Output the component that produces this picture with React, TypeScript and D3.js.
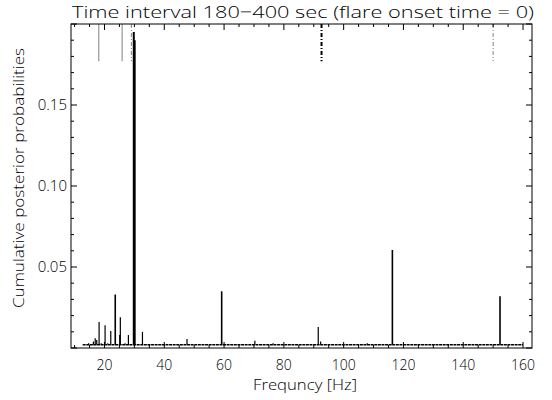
import React from "react";
import * as d3 from "d3";

// chart values
const freqDomain = [8.8, 163];
const probDomain = [0, 0.2];

const xTickLabels = [20, 40, 60, 80, 100, 120, 140, 160];
const yTickLabels = [0.05, 0.1, 0.15];

// low noise floor of the posterior
const floorFreqs = [12.7, 160];
const floorProbs = [0.002, 0.002];

// individual peaks (Hz, cumulative probability)
const spikeFreqs = [
  14.7, 16.3, 16.9, 17.4, 18.2, 18.9, 20.2, 21.1, 22.1, 23.6, 25.1, 25.3, 26.9, 28.0, 28.6,
  29.8, 30.1, 32.7, 33.6, 47.6, 59.2, 70.3, 76.4, 91.5, 92.3, 107.9, 116.3, 124.2, 152.3,
];
const spikeProbs = [
  0.003, 0.004, 0.006, 0.005, 0.016, 0.003, 0.014, 0.003, 0.0105, 0.033, 0.008, 0.019, 0.003, 0.008, 0.0025,
  0.195, 0.19, 0.01, 0.0025, 0.0055, 0.035, 0.0045, 0.003, 0.013, 0.004, 0.003, 0.0605, 0.0025, 0.032,
];

// reference frequencies marked from the top of the frame
const markerFreqs = [18.1, 25.9, 29.0, 92.6, 150.0];
const markerLow = 0.177;
const markerDash = ["", "", "4,2,1,2", "4,2,1,2", "4,2,1,2"];
const markerColor = ["#808080", "#808080", "#808080", "#000", "#808080"];
const markerWidth = [1, 1, 1, 2, 1];

const title = "Time interval 180\u2212400 sec (flare onset time = 0)";

export default function App() {
  const W = 552,
    H = 400;
  const left = 71,
    right = 532,
    top = 24,
    bottom = 348;

  const x = d3.scaleLinear().domain(freqDomain).range([left, right]);
  const y = d3.scaleLinear().domain(probDomain).range([bottom, top]);

  const xMinor = d3.range(10, 161, 5);
  const yMinor = d3.range(0, 0.2001, 0.01);

  const floorLine = d3
    .line<number>()
    .x((d, i) => x(floorFreqs[i]))
    .y((d) => y(d));

  const font = "'Open Sans', 'DejaVu Sans', sans-serif";
  const fw = 300;

  return (
    <svg
      width={W}
      height={H}
      style={{ position: "absolute", left: 0, top: 0, background: "#fff" }}
    >
      <rect x={0} y={0} width={W} height={H} fill="#fff" />

      {/* marker lines */}
      {markerFreqs.map((f, i) => (
        <line
          key={"m" + i}
          x1={x(f)}
          x2={x(f)}
          y1={y(probDomain[1])}
          y2={y(markerLow)}
          stroke={markerColor[i]}
          strokeWidth={markerWidth[i]}
          strokeDasharray={markerDash[i] || undefined}
        />
      ))}

      {/* floor */}
      <path d={floorLine(floorProbs) || ""} fill="none" stroke="#000" strokeWidth={1.4} strokeDasharray="3,0.6" />

      {/* spikes */}
      {spikeFreqs.map((f, i) => (
        <line
          key={"s" + i}
          x1={x(f)}
          x2={x(f)}
          y1={y(floorProbs[0])}
          y2={y(spikeProbs[i])}
          stroke="#000"
          strokeWidth={spikeProbs[i] > 0.1 ? 2 : spikeProbs[i] > 0.02 ? 1.6 : 1.2}
        />
      ))}

      {/* frame */}
      <rect
        x={left}
        y={top}
        width={right - left}
        height={bottom - top}
        fill="none"
        stroke="#000"
        strokeWidth={1}
      />

      {/* x ticks, bottom and top */}
      {xMinor.map((v) => {
        const len = v % 20 === 0 ? 6 : 3;
        return (
          <g key={"xt" + v}>
            <line x1={x(v)} x2={x(v)} y1={bottom} y2={bottom - len} stroke="#000" />
            <line x1={x(v)} x2={x(v)} y1={top} y2={top + len} stroke="#000" />
          </g>
        );
      })}
      {xTickLabels.map((v) => (
        <text
          key={"xl" + v}
          x={x(v)}
          y={370}
          textAnchor="middle"
          fontFamily={font}
          fontWeight={fw}
          fontSize={14}
        >
          {v}
        </text>
      ))}

      {/* y ticks, left and right */}
      {yMinor.map((v, i) => {
        const len = i % 5 === 0 ? 6 : 3;
        return (
          <g key={"yt" + i}>
            <line x1={left} x2={left + len} y1={y(v)} y2={y(v)} stroke="#000" />
            <line x1={right} x2={right - len} y1={y(v)} y2={y(v)} stroke="#000" />
          </g>
        );
      })}
      {yTickLabels.map((v) => (
        <text
          key={"yl" + v}
          x={67}
          y={y(v) + 5}
          textAnchor="end"
          fontFamily={font}
          fontWeight={fw}
          fontSize={15}
        >
          {d3.format(".2f")(v)}
        </text>
      ))}

      {/* titles */}
      <text
        x={303}
        y={18}
        textAnchor="middle"
        fontFamily={font}
        fontWeight={fw}
        fontSize={17}
        textLength={462}
        lengthAdjust="spacingAndGlyphs"
      >
        {title}
      </text>
      <text
        x={305}
        y={390}
        textAnchor="middle"
        fontFamily={font}
        fontWeight={fw}
        fontSize={14}
        textLength={104}
        lengthAdjust="spacingAndGlyphs"
      >
        Frequncy [Hz]
      </text>
      <text
        transform={`translate(24,178) rotate(-90)`}
        textAnchor="middle"
        fontFamily={font}
        fontWeight={fw}
        fontSize={14}
        textLength={260}
        lengthAdjust="spacingAndGlyphs"
      >
        Cumulative posterior probabilities
      </text>
    </svg>
  );
}
